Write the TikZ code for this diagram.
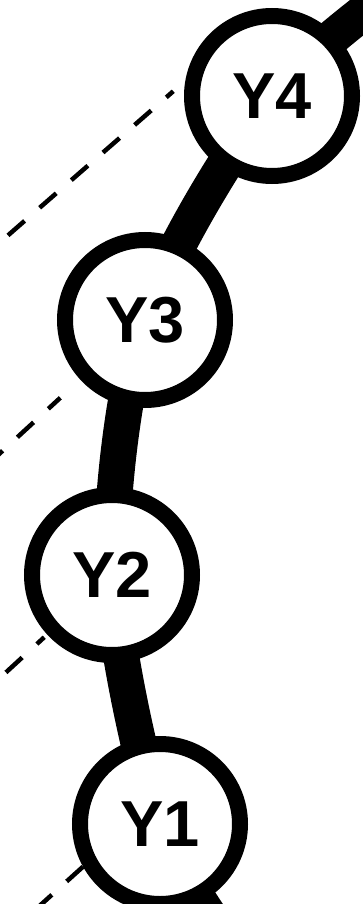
\documentclass[tikz,border=0pt]{standalone}
\usepackage{fontspec}
\setsansfont{Liberation Sans}
\usetikzlibrary{backgrounds,calc}

\begin{document}
\begin{tikzpicture}[
    x=1pt, y=1pt,
    ynode/.style={circle, draw, line width=16pt, fill=white, minimum size=160pt, inner sep=0pt,
      font=\sffamily\bfseries\fontsize{65}{65}\selectfont},
    spine/.style={line width=36pt},
    dashlink/.style={line width=4.5pt, dash pattern=on 22pt off 20pt}
  ]
  \useasboundingbox (0,0) rectangle (362,-904);

  % Nodes
  \node[ynode] (Y4) at (272,-96)  {Y4};
  \node[ynode] (Y3) at (145,-320) {Y3};
  \node[ynode] (Y2) at (112,-575) {Y2};
  \node[ynode] (Y1) at (160,-824) {Y1};

  % Free ends outside the frame
  \coordinate (top) at (420,30);
  \coordinate (bot) at (232,-948);
  \coordinate (s4) at (-26,-265);
  \coordinate (s3) at (-76,-523);
  \coordinate (s2) at (-72,-744);
  \coordinate (s1) at (-26,-965);

  \begin{scope}[on background layer]
    % Thick chain
    \draw[spine] plot[smooth] coordinates {(top) (Y4) (Y3) (Y2) (Y1) (bot)};
    % Dashed lines
    \draw[dashlink, dash phase=12.7pt, shorten <=16pt] (Y4.170) -- (s4);
    \draw[dashlink, dash phase=5.7pt, shorten <=27pt] (Y3) -- (s3);
    \draw[dashlink, dash phase=12pt, shorten <=4pt] (Y2) -- (s2);
    \draw[dashlink] (Y1.209) -- (s1);
  \end{scope}
\end{tikzpicture}
\end{document}
